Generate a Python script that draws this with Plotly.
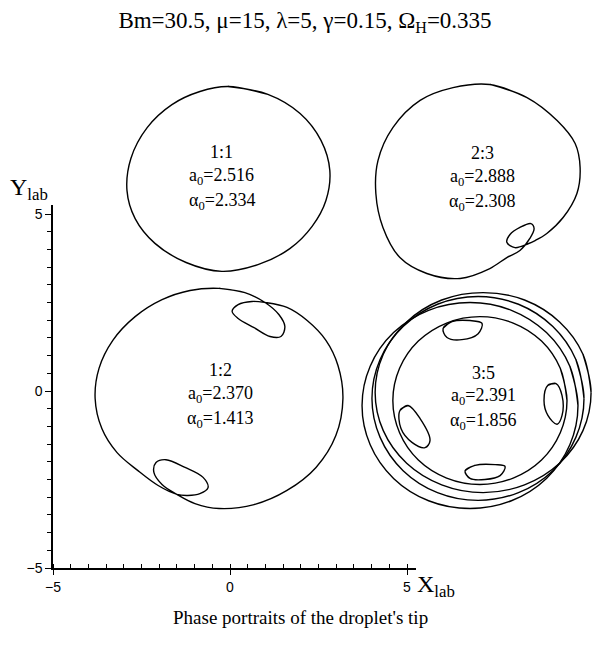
import plotly.graph_objects as go

# ---- text ----
title_text = "Bm=30.5, μ=15, λ=5, γ=0.15, Ω<sub>H</sub>=0.335"
caption_text = "Phase portraits of the droplet's tip"

# ---- tip trajectories in the lab frame (X_lab, Y_lab) ----
# mode 1:1
x_11 = [-0.06, 1.07, 1.98, 2.57, 2.82, 2.71, 2.32, 1.69, 0.79, -0.23, -1.24, -2.12, -2.68, -2.91, -2.80,
        -2.34, -1.64, -0.85]
y_11 = [8.60, 8.38, 7.84, 7.08, 6.23, 5.38, 4.65, 4.02, 3.57, 3.38, 3.63, 4.17, 4.87, 5.66, 6.57,
        7.44, 8.09, 8.46]

# mode 2:3
x_23 = [7.34, 8.39, 9.24, 9.75, 9.89, 9.80, 9.41, 8.95, 8.62, 8.42, 8.05, 7.82, 7.91, 8.19, 8.50, 8.59,
        8.47, 8.19, 7.82, 7.34, 6.50, 5.56, 4.80, 4.32, 4.12, 4.18, 4.60, 5.37, 6.30]
y_23 = [8.66, 8.29, 7.64, 6.99, 6.31, 5.58, 4.90, 4.45, 4.25, 4.16, 4.05, 4.20, 4.42, 4.62, 4.73, 4.59,
        4.31, 3.97, 3.77, 3.46, 3.18, 3.32, 3.77, 4.62, 5.58, 6.51, 7.44, 8.21, 8.57]

# mode 1:2
x_12 = [-0.31, 0.42, 0.99, 1.38, 1.55, 1.44, 1.13, 0.68, 0.23, 0.06, 0.23, 0.62, 0.99, 1.61, 2.18, 2.71,
        3.05, 3.19, 2.99, 2.43, 1.61, 0.68, -0.31, -0.99, -1.50, -1.92, -2.15, -2.09, -1.81, -1.27, -0.76,
        -0.62, -0.85, -1.19, -1.50, -2.03, -2.60, -3.19, -3.62, -3.81, -3.70, -3.31, -2.68, -1.92, -1.13]
y_12 = [2.90, 2.78, 2.50, 2.16, 1.82, 1.54, 1.54, 1.79, 2.05, 2.25, 2.44, 2.53, 2.50, 2.36, 1.99, 1.43,
        0.72, -0.21, -1.26, -2.16, -2.81, -3.21, -3.32, -3.18, -2.92, -2.64, -2.30, -2.02, -1.94, -2.16, -2.44,
        -2.73, -2.90, -2.95, -2.92, -2.67, -2.25, -1.74, -1.06, -0.21, 0.64, 1.43, 2.10, 2.58, 2.84]

# mode 3:5 : large turns (shifted down-left, middle, shifted up-right, inner)
x_35_turns = [
    [9.83, 9.60, 8.94, 7.95, 6.78, 5.61, 4.62, 3.96, 3.73, 3.96, 4.62, 5.61, 6.78, 7.95, 8.94, 9.60],
    [10.00, 9.77, 9.12, 8.15, 7.01, 5.86, 4.89, 4.24, 4.01, 4.24, 4.89, 5.86, 7.01, 8.15, 9.12, 9.77],
    [10.20, 9.97, 9.31, 8.32, 7.15, 5.98, 4.99, 4.33, 4.10, 4.33, 4.99, 5.98, 7.15, 8.32, 9.31, 9.97],
    [9.52, 9.33, 8.80, 8.00, 7.06, 6.12, 5.32, 4.79, 4.60, 4.79, 5.32, 6.12, 7.06, 8.00, 8.80, 9.33],
]
y_35_turns = [
    [-0.41, 0.70, 1.65, 2.28, 2.50, 2.28, 1.65, 0.70, -0.41, -1.52, -2.47, -3.10, -3.32, -3.10, -2.47, -1.52],
    [-0.21, 0.89, 1.82, 2.45, 2.67, 2.45, 1.82, 0.89, -0.21, -1.31, -2.25, -2.87, -3.09, -2.87, -2.25, -1.31],
    [-0.04, 1.04, 1.95, 2.57, 2.78, 2.57, 1.95, 1.04, -0.04, -1.12, -2.04, -2.65, -2.87, -2.65, -2.04, -1.12],
    [-0.27, 0.64, 1.41, 1.92, 2.10, 1.92, 1.41, 0.64, -0.27, -1.18, -1.95, -2.46, -2.64, -2.46, -1.95, -1.18],
]
# mode 3:5 : small loops (top, left, right, bottom)
x_35_loops = [[6.02, 6.27, 6.78, 7.12, 7.01, 6.55, 6.13],
              [4.80, 5.03, 5.37, 5.65, 5.51, 5.14, 4.83],
              [8.98, 9.21, 9.38, 9.38, 9.24, 8.98, 8.87],
              [6.64, 6.92, 7.49, 7.77, 7.63, 7.20, 6.78]]
y_35_loops = [[1.77, 1.96, 1.99, 1.91, 1.62, 1.45, 1.51],
              [-0.55, -0.41, -0.78, -1.40, -1.60, -1.45, -1.06],
              [0.16, 0.21, -0.13, -0.69, -0.94, -0.69, -0.27],
              [-2.25, -2.10, -2.08, -2.13, -2.39, -2.50, -2.47]]

# ---- mode labels ----
mode_ratio = ["1:1", "2:3", "1:2", "3:5"]
mode_a0 = ["2.516", "2.888", "2.370", "2.391"]
mode_alpha0 = ["2.334", "2.308", "1.413", "1.856"]
label_x = [-0.23, 7.12, -0.28, 7.15]
label_y = [6.74, 6.71, 0.58, 0.52]

# ---- axis ticks ----
major_ticks = [-5, -4, -3, -2, -1, 0, 1, 2, 3, 4, 5]
major_text = ["−5", "", "", "", "", "0", "", "", "", "", "5"]
minor_ticks = [v / 2 for v in range(-10, 11)]

# ---- geometry ----
W, H = 594, 647
ML, MR, MT, MB = 53, 0, 61, 79
PX = 35.4  # pixels per unit, both directions
pw, ph = W - ML - MR, H - MT - MB
AX_END = 5.25

serif = "Liberation Serif, Times New Roman, serif"
sans = "Liberation Sans, Arial, sans-serif"


def closed(xs, ys):
    """Wrap a closed orbit so the spline runs smoothly through its start."""
    return list(xs) + list(xs[:2]), list(ys) + list(ys[:2])


def joined(parts):
    out = []
    for i, p in enumerate(parts):
        if i:
            out.append(None)
        out.extend(p)
    return out


c11 = closed(x_11, y_11)
c23 = closed(x_23, y_23)
c12 = closed(x_12, y_12)
pieces = [closed(px, py) for px, py in zip(x_35_turns + x_35_loops, y_35_turns + y_35_loops)]
c35 = (joined([p[0] for p in pieces]), joined([p[1] for p in pieces]))

fig = go.Figure()
for cx, cy in [c11, c23, c12, c35]:
    fig.add_trace(go.Scatter(
        x=cx, y=cy, mode="lines", xaxis="x2", yaxis="y2", connectgaps=False,
        line=dict(color="black", width=1.4, shape="spline", smoothing=1.0),
        hoverinfo="skip", showlegend=False,
    ))

# empty trace on the visible axes so that subplot is drawn
fig.add_trace(go.Scatter(x=[None], y=[None], xaxis="x", yaxis="y", showlegend=False))

annotations = []
for i in range(len(mode_ratio)):
    lines = [mode_ratio[i],
             "a<sub>0</sub>=" + mode_a0[i],
             "α<sub>0</sub>=" + mode_alpha0[i]]
    for t, sh in zip(lines, [0, -24, -49]):
        annotations.append(dict(
            x=label_x[i], y=label_y[i], xref="x2", yref="y2", text=t, showarrow=False,
            yshift=sh, xanchor="center", yanchor="middle",
            font=dict(family=serif, size=18, color="black"),
        ))

annotations += [
    dict(x=(300 - ML) / pw, y=(H - MB - 617) / ph, xref="paper", yref="paper", text=caption_text,
         showarrow=False, xanchor="center", yanchor="middle",
         font=dict(family=serif, size=19, color="black")),
    dict(x=(8 - ML) / pw, y=(H - MB - 189) / ph, xref="paper", yref="paper", text="Y<sub>lab</sub>",
         showarrow=False, xanchor="left", yanchor="middle",
         font=dict(family=serif, size=24, color="black")),
    dict(x=(415 - ML) / pw, y=(H - MB - 586) / ph, xref="paper", yref="paper", text="X<sub>lab</sub>",
         showarrow=False, xanchor="left", yanchor="middle",
         font=dict(family=serif, size=24, color="black")),
]

axis_common = dict(
    showgrid=False, zeroline=False, showline=True, linecolor="black", linewidth=1.5,
    tickmode="array", tickvals=major_ticks, ticktext=major_text,
    tickcolor="black", tickwidth=1.2,
    tickfont=dict(family=sans, size=14, color="black"),
    fixedrange=True,
)

fig.update_layout(
    width=W, height=H,
    margin=dict(l=ML, r=MR, t=MT, b=MB),
    paper_bgcolor="white", plot_bgcolor="rgba(0,0,0,0)",
    title=dict(text=title_text, x=305 / W, xref="container", xanchor="center",
               y=1 - 20 / H, yref="container", yanchor="middle",
               font=dict(family=serif, size=23, color="black")),
    xaxis=dict(domain=[0, (AX_END + 5) * PX / pw], range=[-5, AX_END], anchor="y",
               ticks="outside", ticklen=5,
               minor=dict(tickmode="array", tickvals=minor_ticks, ticks="inside", ticklen=4,
                          tickwidth=1.2, tickcolor="black"),
               **axis_common),
    yaxis=dict(domain=[0, (AX_END + 5) * PX / ph], range=[-5, AX_END], anchor="x",
               ticks="outside", ticklen=6,
               minor=dict(tickmode="array", tickvals=minor_ticks, ticks="outside", ticklen=4,
                          tickwidth=1.2, tickcolor="black"),
               **axis_common),
    xaxis2=dict(domain=[0, 1], range=[-5, -5 + pw / PX], anchor="y2", visible=False, fixedrange=True),
    yaxis2=dict(domain=[0, 1], range=[-5, -5 + ph / PX], anchor="x2", visible=False, fixedrange=True),
    annotations=annotations,
)

fig.write_html("out.html")
